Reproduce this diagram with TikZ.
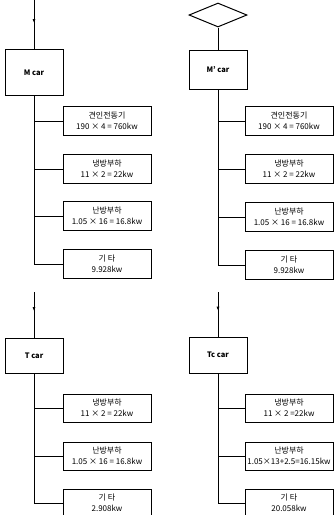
\documentclass[tikz,border=0pt]{standalone}
\usepackage{fontspec}
\setmainfont{Noto Sans CJK KR}
\usetikzlibrary{shapes.geometric,decorations.markings,arrows.meta}
\begin{document}
\begin{tikzpicture}[x=1pt,y=-1pt,
  line width=1pt,
  carbox/.style={draw, minimum width=58pt, inner sep=0pt, font=\fontsize{7.5}{8}\selectfont\bfseries},
  loadbox/.style={draw, minimum width=88pt, minimum height=29pt, inner sep=0pt, align=center, font=\fontsize{8}{11}\selectfont},
  midarrow/.style={postaction={decorate}, decoration={markings, mark=at position #1 with {\arrow{Latex[length=4pt,width=3pt]}}}}]
\useasboundingbox (0,0) rectangle (334,515);
\clip (0,0) rectangle (334,515);

% ---- M car (left top)
\coordinate (mtop) at (34,0);
\node[carbox, minimum height=46pt] (M) at (34,72.5) {M car};
\node[loadbox] (m1) at (107,121) {견인전동기\\190 × 4 = 760kw};
\node[loadbox] (m2) at (107,169) {냉방부하\\11 × 2 = 22kw};
\node[loadbox] (m3) at (107,216) {난방부하\\1.05 × 16 = 16.8kw};
\node[loadbox] (m4) at (107,264) {기 타\\9.928kw};
\draw[midarrow=0.47] (mtop) -- (M.north);
\draw (M.south) |- (m4.west);
\draw (m1.west) -- (m1.west -| M.south);
\draw (m2.west) -- (m2.west -| M.south);
\draw (m3.west) -- (m3.west -| M.south);

% ---- M' car (right top)
\node[draw, diamond, minimum width=58pt, minimum height=24pt, inner sep=0pt] (D) at (218,15) {};
\node[carbox, minimum height=39pt] (Mp) at (218,69.5) {M' car};
\node[loadbox] (p1) at (289,121) {견인전동기\\190 × 4 = 760kw};
\node[loadbox] (p2) at (289,169) {냉방부하\\11 × 2 = 22kw};
\node[loadbox] (p3) at (289,217) {난방부하\\1.05 × 16 = 16.8kw};
\node[loadbox] (p4) at (289,265) {기 타\\9.928kw};
\draw (D.south) -- (Mp.north);
\draw (Mp.south) |- (p4.west);
\draw (p1.west) -- (p1.west -| Mp.south);
\draw (p2.west) -- (p2.west -| Mp.south);
\draw (p3.west) -- (p3.west -| Mp.south);

% ---- T car (left bottom)
\coordinate (ttop) at (34,292);
\node[carbox, minimum height=35pt] (T) at (34,355.5) {T car};
\node[loadbox, minimum height=28pt] (t1) at (107,408) {냉방부하\\11 × 2 = 22kw};
\node[loadbox, minimum height=28pt] (t2) at (107,456) {난방부하\\1.05 × 16 = 16.8kw};
\node[loadbox, minimum height=28pt] (t3) at (107,503) {기 타\\2.908kw};
\draw[midarrow=0.42] (ttop) -- (T.north);
\draw (T.south) |- (t3.west);
\draw (t1.west) -- (t1.west -| T.south);
\draw (t2.west) -- (t2.west -| T.south);

% ---- Tc car (right bottom)
\coordinate (ctop) at (218,292);
\node[carbox, minimum height=36pt] (Tc) at (218,355) {Tc car};
\node[loadbox, minimum height=28pt] (c1) at (289,408) {냉방부하\\11 × 2 =22kw};
\node[loadbox, minimum height=28pt] (c2) at (289,456) {난방부하\\1.05×13+2.5=16.15kw};
\node[loadbox, minimum height=28pt] (c3) at (289,503) {기 타\\20.058kw};
\draw[midarrow=0.42] (ctop) -- (Tc.north);
\draw (Tc.south) |- (c3.west);
\draw (c1.west) -- (c1.west -| Tc.south);
\draw (c2.west) -- (c2.west -| Tc.south);
\end{tikzpicture}
\end{document}
